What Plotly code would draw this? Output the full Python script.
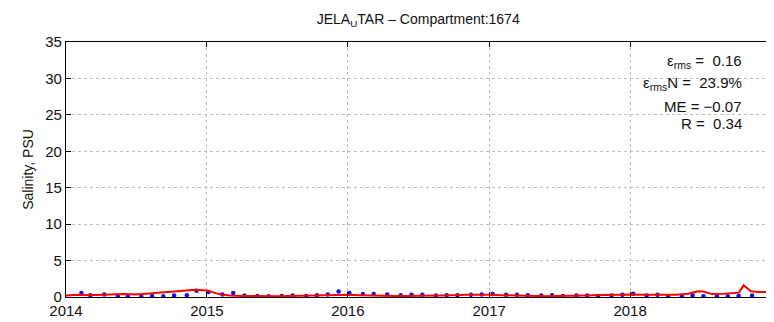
import plotly.graph_objects as go

# ---- data ----
model_dates = [
    "2014-01-01", "2014-02-01", "2014-03-01", "2014-04-01", "2014-05-01", "2014-06-01",
    "2014-07-01", "2014-08-01", "2014-09-01", "2014-10-01", "2014-11-01", "2014-12-01",
    "2015-01-01", "2015-02-01", "2015-03-01", "2015-04-01", "2015-05-01", "2015-06-01",
    "2015-07-01", "2015-08-01", "2015-09-01", "2015-10-01", "2015-11-01", "2015-12-01",
    "2016-01-01", "2016-02-01", "2016-03-01", "2016-04-01", "2016-05-01", "2016-06-01",
    "2016-07-01", "2016-08-01", "2016-09-01", "2016-10-01", "2016-11-01", "2016-12-01",
    "2017-01-01", "2017-02-01", "2017-03-01", "2017-04-01", "2017-05-01", "2017-06-01",
    "2017-07-01", "2017-08-01", "2017-09-01", "2017-10-01", "2017-11-01", "2017-12-01",
    "2018-01-01", "2018-02-01", "2018-03-01", "2018-04-01", "2018-05-01", "2018-06-01",
    "2018-06-25", "2018-07-10", "2018-08-01", "2018-09-01", "2018-10-01", "2018-10-10",
    "2018-10-22", "2018-11-10", "2018-12-01", "2018-12-31",
]
model_salinity = [
    0.20, 0.30, 0.25, 0.30, 0.40, 0.40,
    0.35, 0.45, 0.55, 0.70, 0.85, 1.00,
    0.90, 0.40, 0.20, 0.15, 0.10, 0.10,
    0.10, 0.15, 0.20, 0.25, 0.30, 0.35,
    0.30, 0.25, 0.20, 0.15, 0.15, 0.15,
    0.15, 0.15, 0.20, 0.25, 0.30, 0.35,
    0.30, 0.25, 0.20, 0.15, 0.10, 0.10,
    0.15, 0.20, 0.25, 0.30, 0.35, 0.40,
    0.35, 0.30, 0.30, 0.35, 0.30, 0.45,
    0.80, 0.75, 0.40, 0.45, 0.60, 0.60,
    1.60, 0.80, 0.70, 0.70,
]

obs_dates = [
    "2014-02-10", "2014-03-05", "2014-04-10", "2014-05-15", "2014-06-10", "2014-07-15",
    "2014-08-12", "2014-09-10", "2014-10-08", "2014-11-10", "2014-12-05", "2015-01-05",
    "2015-02-10", "2015-03-10", "2015-04-08", "2015-05-12", "2015-06-10", "2015-07-14",
    "2015-08-11", "2015-09-15", "2015-10-13", "2015-11-10", "2015-12-08", "2016-01-05",
    "2016-02-09", "2016-03-08", "2016-04-12", "2016-05-17", "2016-06-14", "2016-07-12",
    "2016-08-16", "2016-09-13", "2016-10-11", "2016-11-15", "2016-12-13", "2017-01-10",
    "2017-02-14", "2017-03-14", "2017-04-11", "2017-05-16", "2017-06-13", "2017-07-11",
    "2017-08-15", "2017-09-12", "2017-10-10", "2017-11-14", "2017-12-12", "2018-01-09",
    "2018-02-13", "2018-03-13", "2018-04-10", "2018-05-15", "2018-06-12", "2018-07-10",
    "2018-08-14", "2018-09-11", "2018-10-09", "2018-11-13",
]
obs_salinity = [
    0.55, 0.25, 0.35, 0.15, 0.10, 0.10,
    0.15, 0.10, 0.20, 0.25, 0.85, 0.70,
    0.35, 0.55, 0.20, 0.15, 0.10, 0.15,
    0.20, 0.15, 0.25, 0.35, 0.75, 0.55,
    0.40, 0.40, 0.35, 0.25, 0.30, 0.30,
    0.20, 0.25, 0.25, 0.30, 0.35, 0.40,
    0.30, 0.30, 0.25, 0.20, 0.25, 0.15,
    0.20, 0.20, 0.15, 0.20, 0.30, 0.45,
    0.20, 0.30, 0.10, 0.10, 0.20, 0.10,
    0.10, 0.10, 0.15, 0.20,
]

year_ticks = ["2014-01-01", "2015-01-01", "2016-01-01", "2017-01-01", "2018-01-01"]
year_labels = ["2014", "2015", "2016", "2017", "2018"]
y_ticks = [0, 5, 10, 15, 20, 25, 30, 35]

stats_lines = [
    "ε<sub>rms</sub> =  0.16",
    "ε<sub>rms</sub>N =  23.9%",
    "ME = −0.07",
    "R =  0.34",
]

FONT = "Liberation Sans, Arial, sans-serif"

fig = go.Figure()
fig.add_trace(go.Scatter(
    x=obs_dates, y=obs_salinity, mode="markers",
    marker=dict(color="#1010ee", size=4.5),
    showlegend=False,
))
fig.add_trace(go.Scatter(
    x=model_dates, y=model_salinity, mode="lines",
    line=dict(color="#ff0000", width=2),
    showlegend=False,
))

axis_common = dict(
    showline=True, linecolor="black", linewidth=1.3, mirror="allticks",
    ticks="inside", ticklen=5, tickcolor="black",
    showgrid=True, gridcolor="#bdbdbd", gridwidth=1, griddash="dot",
    zeroline=False,
    tickfont=dict(family=FONT, size=15, color="#111"),
)

fig.update_xaxes(
    type="date", range=["2014-01-01", "2019-01-01"],
    tickvals=year_ticks, ticktext=year_labels,
    **axis_common,
)
fig.update_yaxes(
    range=[0, 35], tickvals=y_ticks,
    title=dict(text="Salinity, PSU", font=dict(family=FONT, size=14, color="#111"), standoff=8),
    **axis_common,
)

ys = [0.922, 0.838, 0.749, 0.682]
for txt, yy in zip(stats_lines, ys):
    fig.add_annotation(
        x=0.962, y=yy, xref="paper", yref="paper",
        xanchor="right", yanchor="middle", showarrow=False,
        text=txt, font=dict(family=FONT, size=15, color="#111"),
    )

fig.update_layout(
    width=774, height=322,
    margin=dict(l=58, r=11, t=34, b=33),
    paper_bgcolor="white", plot_bgcolor="white",
    title=dict(
        text="JELA<sub>U</sub>TAR – Compartment:1674",
        x=0.53, xanchor="center", y=0.965, yanchor="middle",
        font=dict(family=FONT, size=14, color="#111"),
    ),
)

fig.write_html("out.html")
